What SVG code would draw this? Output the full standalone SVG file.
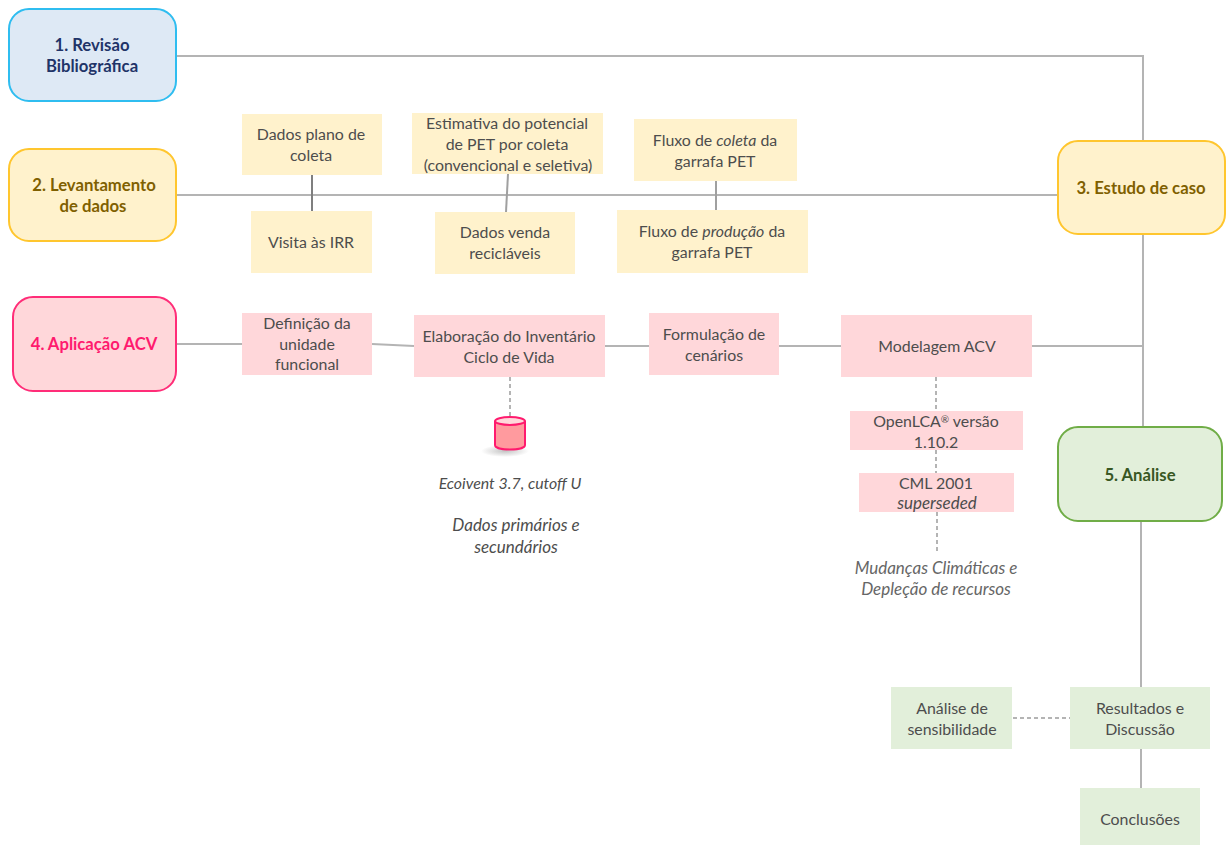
<svg xmlns="http://www.w3.org/2000/svg" width="1228" height="845" viewBox="0 0 1228 845">
<defs>
<radialGradient id="shadow"><stop offset="0" stop-color="#888" stop-opacity="0.5"/><stop offset="1" stop-color="#888" stop-opacity="0"/></radialGradient>
</defs>
<style>
text{font-family:"Lato","Noto Sans","Liberation Sans",sans-serif;font-size:15.9px;fill:#4d4d4d;text-anchor:middle}
.h{font-weight:700;font-size:16.7px}
.i{font-style:italic}
.l{font-size:17px}
.y{fill:#fff2cc}.p{fill:#ffd7da}.g{fill:#e2efda}
.c{fill:none;stroke:#b4b4b4;stroke-width:2}
.d{fill:none;stroke:#b4b4b4;stroke-width:2;stroke-dasharray:4 3}
</style>
<g id="connectors">
<path class="c" d="M176 56H1143V141"/>
<path class="c" d="M176 195H1058"/>
<path class="c" d="M312 175V211" style="stroke:#7f7f7f"/>
<path class="c" d="M508 174L506 212" style="stroke:#a0a0a0"/>
<path class="c" d="M716 181V211" style="stroke:#a0a0a0"/>
<path class="c" d="M176 344H242"/>
<path class="c" d="M372 344L414 346"/>
<path class="c" d="M605 346H649"/>
<path class="c" d="M779 346H841"/>
<path class="c" d="M1032 346H1142"/>
<path class="c" d="M1143 234V427"/>
<path class="c" d="M1141 521V687"/>
<path class="c" d="M1141 749V788"/>
<path class="d" d="M510 377V417"/>
<path class="d" d="M936 377V411"/>
<path class="d" d="M936 450V473"/>
<path class="d" d="M937 512V551"/>
<path class="d" d="M1013 718H1070"/>
</g>
<g id="n1"><rect x="9" y="9" width="167" height="92" rx="20" fill="#dee9f5" stroke="#2fbdf0" stroke-width="2"/><text class="h" style="fill:#1f3468" x="92" y="51">1. Revisão</text><text class="h" style="fill:#1f3468" x="92" y="72">Bibliográfica</text></g>
<g id="n2"><rect x="9" y="149" width="167" height="92" rx="20" fill="#fff2cc" stroke="#ffc62e" stroke-width="2"/><text class="h" style="fill:#7f6000" x="94" y="191">2. Levantamento</text><text class="h" style="fill:#7f6000" x="93" y="212">de dados</text></g>
<g id="n3"><rect x="1058" y="141" width="167" height="93" rx="20" fill="#fff2cc" stroke="#ffc62e" stroke-width="2"/><text class="h" style="fill:#7f6000" x="1141" y="194">3. Estudo de caso</text></g>
<g id="n4"><rect x="13" y="297" width="163" height="94" rx="20" fill="#ffd7da" stroke="#ff2d78" stroke-width="2"/><text class="h" style="fill:#ff1a6e" x="94" y="350">4. Aplicação ACV</text></g>
<g id="n5"><rect x="1058" y="427" width="164" height="94" rx="20" fill="#e2efda" stroke="#70ad47" stroke-width="2"/><text class="h" style="fill:#385723" x="1140" y="481">5. Análise</text></g>
<g id="dados-plano"><rect class="y" x="242" y="114" width="140" height="61"/><text x="311" y="140">Dados plano de</text><text x="311" y="161">coleta</text></g>
<g id="visita"><rect class="y" x="251" y="211" width="121" height="62"/><text x="311" y="248">Visita às IRR</text></g>
<g id="estimativa"><rect class="y" x="412" y="113" width="191" height="61"/><text x="507" y="129">Estimativa do potencial</text><text x="507" y="150">de PET por coleta</text><text x="508" y="171">(convencional e seletiva)</text></g>
<g id="dados-venda"><rect class="y" x="435" y="212" width="140" height="62"/><text x="505" y="238">Dados venda</text><text x="505" y="259">recicláveis</text></g>
<g id="fluxo-coleta"><rect class="y" x="634" y="119" width="163" height="62"/><text x="715" y="146">Fluxo de <tspan class="i">coleta</tspan> da</text><text x="715" y="167">garrafa PET</text></g>
<g id="fluxo-producao"><rect class="y" x="617" y="210" width="191" height="63"/><text x="712" y="237">Fluxo de <tspan class="i">produção</tspan> da</text><text x="712" y="258">garrafa PET</text></g>
<g id="definicao"><rect class="p" x="242" y="313" width="130" height="62"/><text x="307" y="329">Definição da</text><text x="307" y="350">unidade</text><text x="307" y="370">funcional</text></g>
<g id="elaboracao"><rect class="p" x="414" y="315" width="191" height="62"/><text x="509" y="342">Elaboração do Inventário</text><text x="509" y="363">Ciclo de Vida</text></g>
<g id="formulacao"><rect class="p" x="649" y="313" width="130" height="62"/><text x="714" y="340">Formulação de</text><text x="714" y="361">cenários</text></g>
<g id="modelagem"><rect class="p" x="841" y="315" width="191" height="62"/><text x="937" y="352">Modelagem ACV</text></g>
<g id="openlca"><rect class="p" x="850" y="411" width="173" height="39"/><text x="936" y="427">OpenLCA<tspan font-size="10" dy="-4">®</tspan><tspan dy="4"> versão</tspan></text><text x="936" y="448">1.10.2</text></g>
<g id="cml"><rect class="p" x="859" y="473" width="155" height="39"/><text x="936" y="489">CML 2001</text><text class="i l" x="937" y="509">superseded</text></g>
<g id="db"><ellipse cx="505" cy="451" rx="24" ry="6" fill="url(#shadow)"/><path d="M495 421V445C495 451 525 451 525 445V421" fill="#ff9a9e" stroke="#ff1a6e" stroke-width="2"/><ellipse cx="510" cy="421" rx="15" ry="4" fill="#ffd7da" stroke="#ff1a6e" stroke-width="2"/></g>
<text class="i" x="510" y="489">Ecoivent 3.7, cutoff U</text>
<text class="i l" x="516" y="531">Dados primários e</text>
<text class="i l" x="516" y="553">secundários</text>
<text class="i l" style="fill:#666" x="936" y="574">Mudanças Climáticas e</text>
<text class="i l" style="fill:#666" x="936" y="595">Depleção de recursos</text>
<g id="sensibilidade"><rect class="g" x="891" y="687" width="121" height="62"/><text x="952" y="714">Análise de</text><text x="952" y="735">sensibilidade</text></g>
<g id="resultados"><rect class="g" x="1070" y="687" width="140" height="62"/><text x="1140" y="714">Resultados e</text><text x="1140" y="735">Discussão</text></g>
<g id="conclusoes"><rect class="g" x="1080" y="788" width="120" height="57"/><text x="1140" y="825">Conclusões</text></g>
</svg>
